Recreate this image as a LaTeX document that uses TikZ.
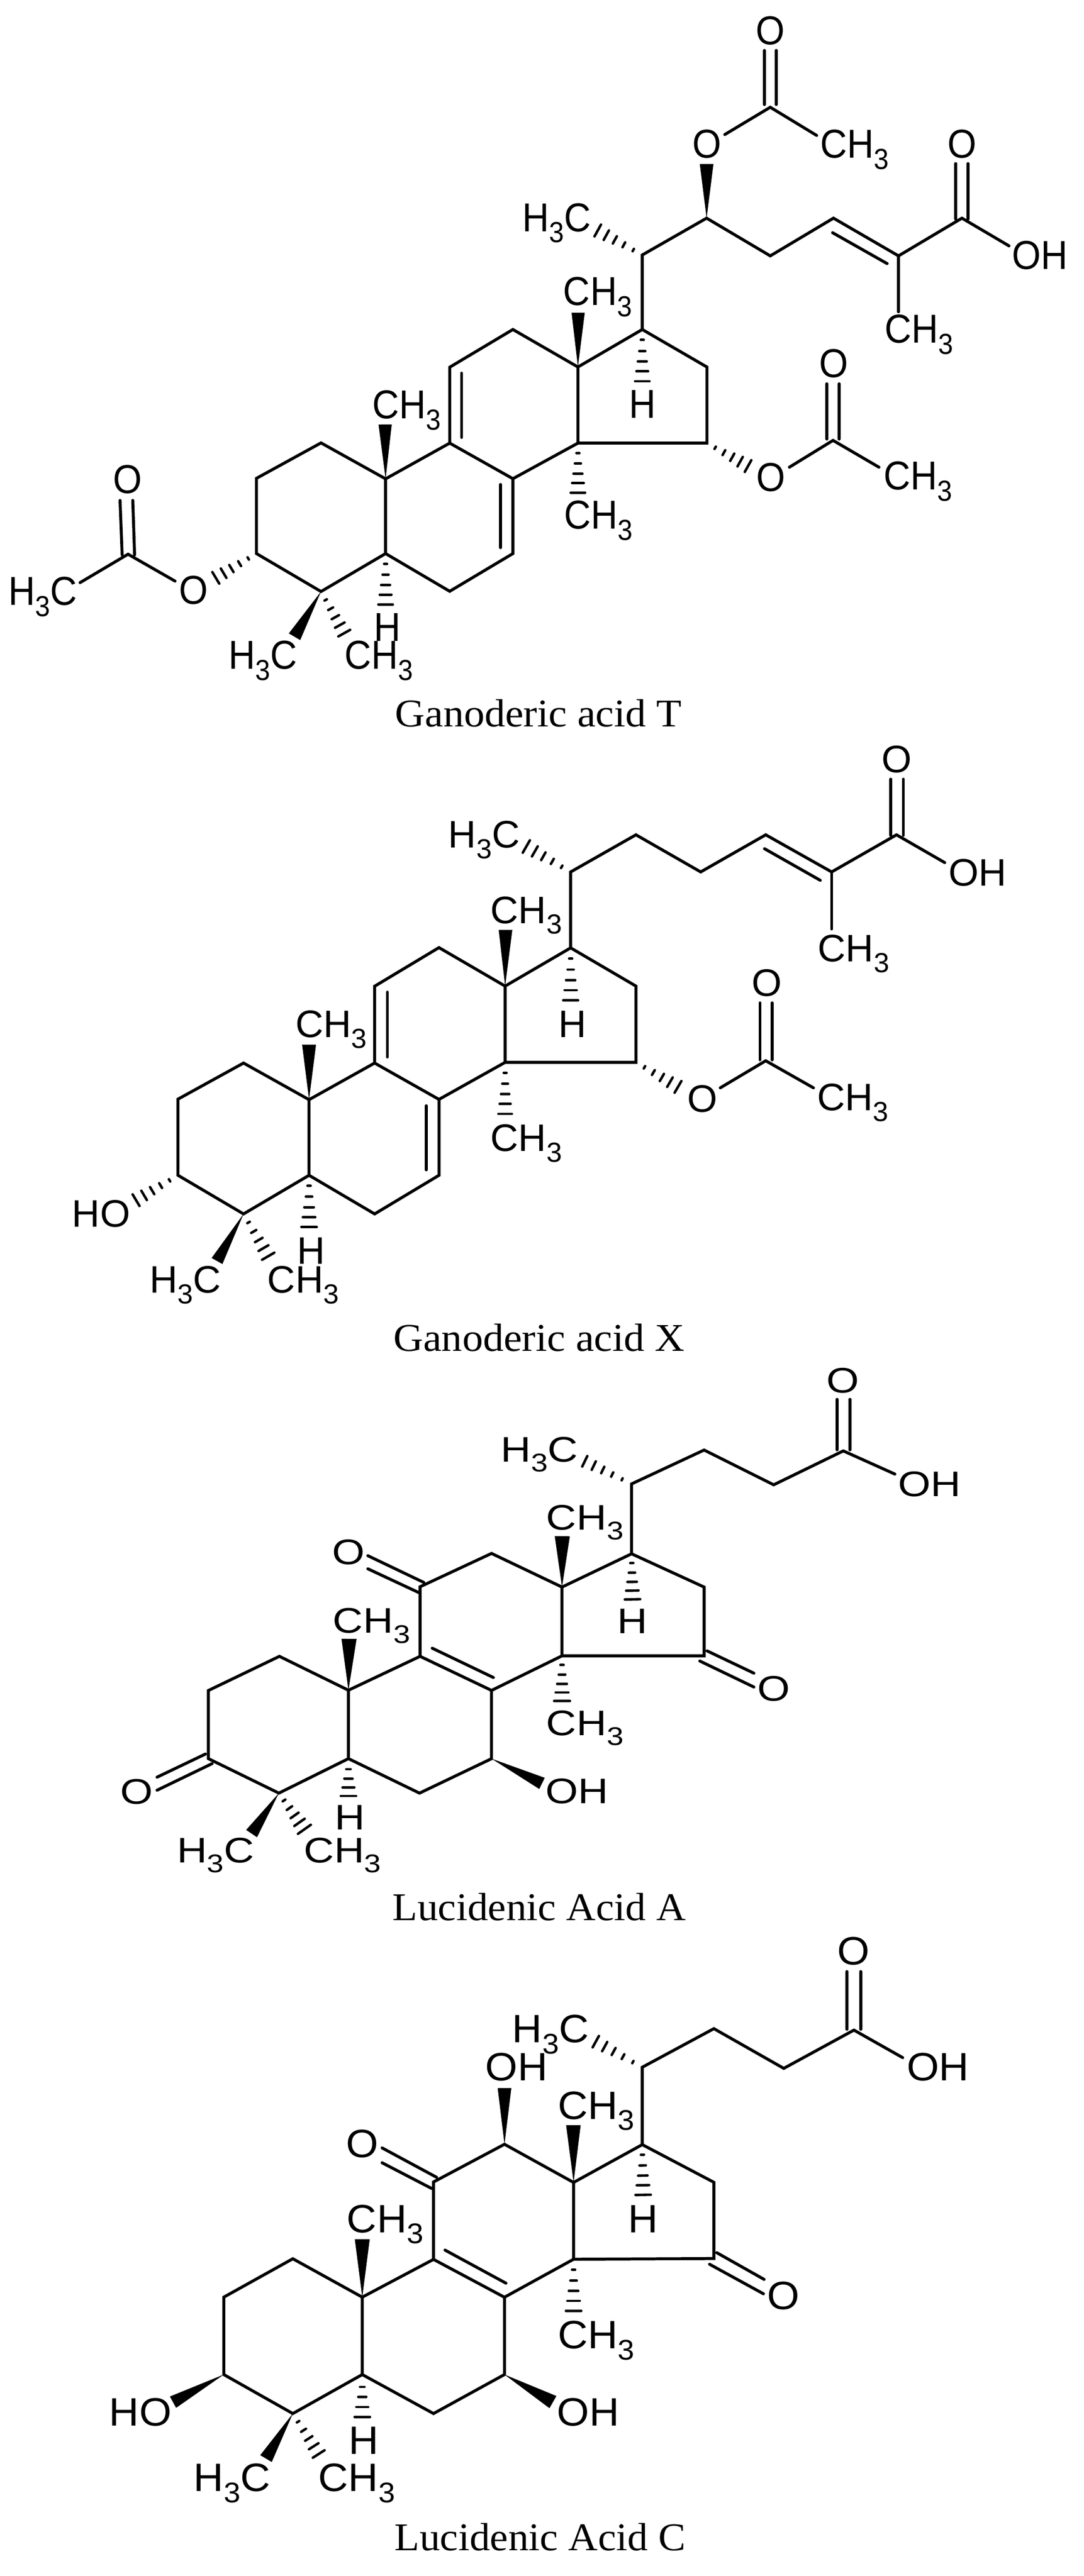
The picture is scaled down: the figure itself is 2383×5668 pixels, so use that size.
\documentclass[tikz,border=0pt]{standalone}
\usepackage{fontspec}
\usepackage{graphicx}
\setmainfont{Liberation Sans}
\newfontfamily\capfont{Liberation Serif}
\usetikzlibrary{calc}
\tikzset{
  bondline/.style={line width=0.065cm,line cap=round,line join=miter,black},
  hashline/.style={line width=0.055cm,line cap=round,black},
  atomlabel/.style={anchor=base west,inner sep=0pt,outer sep=0pt,font=\fontsize{25}{29}\selectfont},
  captionlabel/.style={anchor=base west,inner sep=0pt,outer sep=0pt,font=\capfont\fontsize{24.6}{28}\selectfont}
}
\newcommand{\pnt}[3]{\coordinate (#1) at (#2,#3);}
\newcommand{\atm}[4]{\node[atomlabel] (#1) at ({#2-4},#3) {\scalebox{\xs}[\ys]{#4}};}
\newcommand{\thr}{\raisebox{-.28em}{\scalebox{.72}{3}}}
\newcommand{\chm}{CH\thr}
\newcommand{\hc}{H\thr C}
\newcommand{\seg}[5]{\coordinate (#1a) at (#2,#3);\coordinate (#1b) at (#4,#5);\draw[bondline] (#1a) -- (#1b);}
\newcommand{\capt}[5]{\node[captionlabel] (#1) at ({#2-3},#3) {\scalebox{#5}[1]{#4}};}
\newcommand{\wedgebond}[3]{\pgfmathsetlengthmacro\hw{#3*0.2845}\fill[black] (#1) -- ($(#2)!\hw!90:(#1)$) -- ($(#2)!\hw!-90:(#1)$) -- cycle;}
\newcommand{\hashbond}[4]{\foreach \tv in {#4} {\pgfmathsetlengthmacro\hw{\tv*#3*0.2845}\draw[hashline] ($(#1)!\tv!(#2)!\hw!90:(#1)$) -- ($(#1)!\tv!(#2)!\hw!-90:(#1)$);}}
\newcommand{\hashb}[3]{\hashbond{#1}{#2}{#3}{.2,.41,.61,.8,.99}}
\newcommand{\skeleton}{%
  \draw[bondline] (C2) -- (C1) -- (C10) -- (C5) -- (C4) -- (C3) -- cycle;
  \draw[bondline] (C10) -- (C9) -- (C8) -- (C7) -- (C6) -- (C5);
  \draw[bondline] (C9) -- (C11) -- (C12) -- (C13) -- (C14) -- (C8);
  \draw[bondline] (C13) -- (C17) -- (C16) -- (C15) -- (C14);
}
\begin{document}
\begin{tikzpicture}[x=0.01cm,y=-0.01cm]
\useasboundingbox (0,0) rectangle (2383,5668);
\fill[white] (0,0) rectangle (2383,5668);

% ---------- Ganoderic acid T ----------
\begin{scope}[name prefix=t-]
\def\xs{.93}\def\ys{1.01}
\pnt{C1}{706}{974.5}\pnt{C2}{564}{1052.5}\pnt{C3}{564}{1218}\pnt{C4}{706}{1301.5}\pnt{C5}{848}{1218}
\pnt{C6}{989}{1301}\pnt{C7}{1128}{1218}\pnt{C8}{1128}{1053.3}\pnt{C9}{989}{975}\pnt{C10}{848}{1053.6}
\pnt{C11}{989}{808}\pnt{C12}{1128}{725}\pnt{C13}{1271}{807.5}\pnt{C14}{1271}{975}\pnt{C15}{1554.6}{975}
\pnt{C16}{1554.6}{807.5}\pnt{C17}{1412.5}{725}\pnt{C20}{1412.5}{561}
\pnt{S1}{1554}{480}\pnt{S2}{1694}{563}\pnt{S3}{1833}{480}\pnt{S4}{1976}{563}\pnt{S5}{2115.5}{480}
\skeleton
\draw[bondline] (C17) -- (C20) -- (S1) -- (S2) -- (S3) -- (S4) -- (S5);
\seg{d1}{1015}{821}{1015}{962.5}
\seg{d2}{1100.8}{1066}{1100.8}{1205}
\seg{d3}{1831}{512}{1951}{580}
\seg{d4}{2102}{360}{2102}{482}
\seg{d5}{2129}{360}{2129}{482}
\pnt{e1}{1976}{686}\draw[bondline] (S4) -- (e1);
\pnt{e2}{2219}{541}\draw[bondline] (S5) -- (e2);
% acetate on side chain
\pnt{w1}{1554}{361}\wedgebond{S1}{w1}{15}
\pnt{A1}{1694}{236}\pnt{e3}{1594}{296}\pnt{e4}{1796}{298}
\draw[bondline] (e3) -- (A1) -- (e4);
\seg{d6}{1681}{111}{1681}{230}
\seg{d7}{1707}{111}{1707}{230}
\pnt{h1}{1313.6}{506.6}\hashb{C20}{h1}{15}
% C13, C17, C14 substituents
\pnt{w2}{1271.5}{688}\wedgebond{C13}{w2}{14.5}
\pnt{h2}{1412.5}{840}\hashb{C17}{h2}{16}
\pnt{h3}{1271}{1085}\hashb{C14}{h3}{16}
% acetate on C15
\pnt{h4}{1646}{1026}\hashb{C15}{h4}{15}
\pnt{A2}{1832}{969}\pnt{e5}{1736}{1028}\pnt{e6}{1933}{1028}
\draw[bondline] (e5) -- (A2) -- (e6);
\seg{d8}{1818.6}{844.5}{1818.6}{966}
\seg{d9}{1845.4}{844.5}{1845.4}{966}
% C3 acetate
\pnt{h5}{473.7}{1272}\hashb{C3}{h5}{15}
\pnt{A3}{281.6}{1219.4}\pnt{e7}{385}{1278.6}\pnt{e8}{176}{1282}
\draw[bondline] (e7) -- (A3) -- (e8);
\seg{d10}{264}{1101}{268.6}{1221}
\seg{d11}{292}{1101}{296}{1221}
% ring substituents
\pnt{w3}{847}{934}\wedgebond{C10}{w3}{14.5}
\pnt{h6}{848}{1331}\hashb{C5}{h6}{16}
\pnt{w4}{647.7}{1401}\wedgebond{C4}{w4}{14.5}
\pnt{h7}{757.6}{1394}\hashb{C4}{h7}{15}
% labels
\atm{O1}{1666}{98}{O}
\atm{O2}{1527}{348}{O}
\atm{Me1}{1808}{348}{\chm}
\atm{O3}{2088}{348}{O}
\atm{OH1}{2230}{592}{OH}
\atm{Me2}{1153}{509}{\hc}
\atm{Me3}{1949.4}{754}{\chm}
\atm{Me4}{1243}{672}{\chm}
\atm{H1}{1388}{920}{H}
\atm{Me5}{1244.6}{1163.4}{\chm}
\atm{O4}{1667}{1080.5}{O}
\atm{O5}{1805.6}{830.5}{O}
\atm{Me6}{1947}{1077}{\chm}
\atm{Me7}{822.7}{921}{\chm}
\atm{O6}{398}{1329}{O}
\atm{O7}{252.5}{1085.7}{O}
\atm{Me8}{23}{1331.6}{\hc}
\atm{H2}{826.5}{1410.7}{H}
\atm{Me9}{506.6}{1472.4}{\hc}
\atm{Me10}{761.5}{1472.4}{\chm}
\capt{title}{872}{1599}{Ganoderic acid T}{1.05}
\end{scope}

% ---------- Ganoderic acid X ----------
\begin{scope}[name prefix=x-]
\def\xs{.97}\def\ys{.96}
\pnt{C1}{535.6}{2339}\pnt{C2}{391.5}{2418.4}\pnt{C3}{391.5}{2586}\pnt{C4}{535.6}{2671}\pnt{C5}{679.7}{2586}
\pnt{C6}{823.9}{2671}\pnt{C7}{965.4}{2586}\pnt{C8}{965.4}{2419}\pnt{C9}{823.9}{2339}\pnt{C10}{679.7}{2419.6}
\pnt{C11}{823.9}{2170}\pnt{C12}{965.4}{2085}\pnt{C13}{1110.9}{2169.7}\pnt{C14}{1110.9}{2337.5}\pnt{C15}{1398.6}{2337.5}
\pnt{C16}{1398.6}{2169.7}\pnt{C17}{1255}{2085.6}\pnt{C20}{1255}{1918.5}
\pnt{S1}{1398.6}{1836.8}\pnt{S2}{1541}{1918.5}\pnt{S3}{1684}{1836.8}\pnt{S4}{1829}{1918.5}\pnt{S5}{1971.6}{1836.8}
\skeleton
\draw[bondline] (C17) -- (C20) -- (S1) -- (S2) -- (S3) -- (S4) -- (S5);
\seg{d1}{852}{2183}{852}{2325.7}
\seg{d2}{937.4}{2433}{937.4}{2574}
\seg{d3}{1681.3}{1867.4}{1804}{1937}
\seg{d4}{1959}{1714.4}{1959}{1838}
\seg{d5}{1986.5}{1714.4}{1986.5}{1838}
\pnt{e1}{1829}{2044}\draw[bondline] (S4) -- (e1);
\pnt{e2}{2077.7}{1898}\draw[bondline] (S5) -- (e2);
\pnt{h1}{1156.5}{1862}\hashb{C20}{h1}{16}
\pnt{w2}{1111.7}{2046}\wedgebond{C13}{w2}{15}
\pnt{h2}{1255}{2202}\hashb{C17}{h2}{16.5}
\pnt{h3}{1110.9}{2452}\hashb{C14}{h3}{15}
\pnt{h4}{1492}{2392}\hashb{C15}{h4}{15}
\pnt{A2}{1684}{2334}\pnt{e5}{1584}{2393.6}\pnt{e6}{1789}{2393.6}
\draw[bondline] (e5) -- (A2) -- (e6);
\seg{d8}{1671.4}{2206.7}{1671.4}{2332}
\seg{d9}{1698}{2206.7}{1698}{2332}
\pnt{w3}{679.7}{2298.4}\wedgebond{C10}{w3}{15.3}
\pnt{h5}{298.3}{2641.3}\hashb{C3}{h5}{15}
\pnt{h6}{679.7}{2701}\hashb{C5}{h6}{17}
\pnt{w4}{477.3}{2774.6}\wedgebond{C4}{w4}{13.6}
\pnt{h7}{590.4}{2765}\hashb{C4}{h7}{15.7}
\atm{O1}{1942.6}{1699.7}{O}
\atm{OH1}{2090}{1949.7}{OH}
\atm{Me1}{1802.4}{2115.5}{\chm}
\atm{Me2}{990}{1865.5}{\hc}
\atm{Me3}{1082.7}{2031.4}{\chm}
\atm{H1}{1232}{2282}{H}
\atm{Me4}{1082.7}{2533}{\chm}
\atm{O2}{1515.5}{2447}{O}
\atm{O3}{1657}{2192}{O}
\atm{Me5}{1800.8}{2444}{\chm}
\atm{Me6}{653.6}{2283}{\chm}
\atm{HO1}{162.5}{2699.5}{HO}
\atm{H2}{658}{2781}{H}
\atm{Me7}{332.8}{2845}{\hc}
\atm{Me8}{592.3}{2845}{\chm}
\capt{title}{868.5}{2973}{Ganoderic acid X}{1.05}
\end{scope}

% ---------- Lucidenic Acid A ----------
\begin{scope}[name prefix=a-]
\def\xs{1.05}\def\ys{.89}
\pnt{C1}{614.5}{3644.4}\pnt{C2}{458.3}{3719.6}\pnt{C3}{458.3}{3869.5}\pnt{C4}{613.3}{3945.4}\pnt{C5}{766.3}{3869.5}
\pnt{C6}{922.6}{3945.4}\pnt{C7}{1081}{3869.6}\pnt{C8}{1081}{3719.4}\pnt{C9}{923.9}{3644.4}\pnt{C10}{766.3}{3719}
\pnt{C11}{923.9}{3491.3}\pnt{C12}{1081}{3418}\pnt{C13}{1236}{3492}\pnt{C14}{1236}{3643.3}\pnt{C15}{1548.5}{3643.3}
\pnt{C16}{1548.5}{3492}\pnt{C17}{1389}{3418.8}\pnt{C20}{1389}{3265}
\pnt{S1}{1548.5}{3190.5}\pnt{S2}{1701.5}{3267}\pnt{S3}{1854.6}{3192.4}
\skeleton
\draw[bondline] (C17) -- (C20) -- (S1) -- (S2) -- (S3);
\seg{d1}{950.6}{3626.5}{1085}{3691}
\seg{d2}{1840.6}{3079}{1840.6}{3190}
\seg{d3}{1869}{3079}{1869}{3190}
\pnt{e2}{1968}{3243.4}\draw[bondline] (S3) -- (e2);
\pnt{h1}{1285}{3214.7}\hashb{C20}{h1}{13}
\seg{d4}{1555}{3632.4}{1658}{3681.5}
\seg{d5}{1539}{3654.7}{1658}{3712}
\pnt{w2}{1236.6}{3380}\wedgebond{C13}{w2}{16.6}
\pnt{h2}{1391}{3520}\hashb{C17}{h2}{17}
\pnt{h3}{1236}{3744}\hashb{C14}{h3}{17.5}
\pnt{w5}{1192}{3924}\wedgebond{C7}{w5}{13.7}
\seg{d6}{932}{3481.8}{809}{3423}
\seg{d7}{920.7}{3504}{809}{3451.8}
\pnt{w3}{767.6}{3606}\wedgebond{C10}{w3}{16.6}
\seg{d8}{452}{3859.3}{345.4}{3910.3}
\seg{d9}{466.6}{3880.4}{345.4}{3939}
\pnt{h6}{766.3}{3952.5}\hashbond{C5}{h6}{17}{.28,.53,.76,.99}
\pnt{w4}{553.3}{4034.4}\wedgebond{C4}{w4}{14.4}
\pnt{h7}{670}{4025.8}\hashb{C4}{h7}{17.5}
\atm{O1}{1821.4}{3064.8}{O}
\atm{OH1}{1979}{3292.5}{OH}
\atm{Me1}{1105}{3216}{\hc}
\atm{O2}{1669.6}{3742}{O}
\atm{Me2}{1205}{3365.8}{\chm}
\atm{H1}{1362}{3593.5}{H}
\atm{Me3}{1205}{3818.6}{\chm}
\atm{OH2}{1204}{3968.5}{OH}
\atm{O3}{734.4}{3441.6}{O}
\atm{Me4}{735.7}{3593.4}{\chm}
\atm{O4}{268.9}{3969.6}{O}
\atm{H2}{740.8}{4025.8}{H}
\atm{Me5}{393}{4098.5}{\hc}
\atm{Me6}{672}{4098.5}{\chm}
\capt{title}{866.5}{4225}{Lucidenic Acid A}{1.04}
\end{scope}

% ---------- Lucidenic Acid C ----------
\begin{scope}[name prefix=c-]
\def\xs{1.04}\def\ys{.99}
\pnt{C1}{644}{4969.9}\pnt{C2}{492.2}{5054.4}\pnt{C3}{492.2}{5224.7}\pnt{C4}{644}{5310.5}\pnt{C5}{796.7}{5224.7}
\pnt{C6}{953.4}{5310.5}\pnt{C7}{1109.4}{5224.7}\pnt{C8}{1109.4}{5054.6}\pnt{C9}{953.4}{4971.3}\pnt{C10}{796.7}{5054.4}
\pnt{C11}{953.4}{4801}\pnt{C12}{1109.5}{4718}\pnt{C13}{1261.4}{4802}\pnt{C14}{1261.4}{4971}\pnt{C15}{1570}{4969.4}
\pnt{C16}{1570}{4801.7}\pnt{C17}{1412.5}{4718.8}\pnt{C20}{1412.5}{4548.5}
\pnt{S1}{1570}{4463.6}\pnt{S2}{1723.7}{4551}\pnt{S3}{1878}{4466.8}
\skeleton
\draw[bondline] (C17) -- (C20) -- (S1) -- (S2) -- (S3);
\seg{d1}{978.6}{4950.8}{1112.8}{5023.7}
\seg{d2}{1862.8}{4338}{1862.8}{4465}
\seg{d3}{1892.7}{4338}{1892.7}{4465}
\pnt{e2}{1985.2}{4527.4}\draw[bondline] (S3) -- (e2);
\pnt{h1}{1309.2}{4491.7}\hashb{C20}{h1}{14.5}
\pnt{w6}{1109.5}{4594.4}\wedgebond{C12}{w6}{15}
\pnt{w2}{1261}{4676}\wedgebond{C13}{w2}{16}
\pnt{h2}{1414.4}{4830.4}\hashb{C17}{h2}{17}
\pnt{h3}{1261.4}{5085.5}\hashb{C14}{h3}{17}
\seg{d4}{1576.4}{4956.6}{1680.4}{5015.3}
\seg{d5}{1560.5}{4982}{1679}{5047}
\pnt{w5}{1216}{5285.3}\wedgebond{C7}{w5}{15.4}
\seg{d6}{960.2}{4790.7}{840.3}{4726}
\seg{d7}{949.3}{4815.3}{840.3}{4758.7}
\pnt{w3}{796.7}{4927}\wedgebond{C10}{w3}{16.4}
\pnt{w7}{380.5}{5285.5}\wedgebond{C3}{w7}{14.2}
\pnt{h6}{796.7}{5318.7}\hashbond{C5}{h6}{17}{.29,.52,.76,.99}
\pnt{w4}{585}{5409.6}\wedgebond{C4}{w4}{14.7}
\pnt{h7}{701.4}{5400.4}\hashb{C4}{h7}{15.5}
\atm{O1}{1845}{4323.3}{O}
\atm{OH1}{1998}{4578.4}{OH}
\atm{Me1}{1130.6}{4494.3}{\hc}
\atm{OH2}{1071}{4578.4}{OH}
\atm{Me2}{1230.7}{4662.6}{\chm}
\atm{H1}{1385.7}{4912}{H}
\atm{Me3}{1230.7}{5168}{\chm}
\atm{O2}{1691.8}{5081}{O}
\atm{OH3}{1228.6}{5337}{OH}
\atm{O3}{765.4}{4746.5}{O}
\atm{Me4}{766.8}{4912}{\chm}
\atm{HO1}{244.3}{5337}{HO}
\atm{H2}{770.8}{5400.4}{H}
\atm{Me5}{430.2}{5482}{\hc}
\atm{Me6}{704}{5482}{\chm}
\capt{title}{871}{5612}{Lucidenic Acid C}{1.04}
\end{scope}
\end{tikzpicture}
\end{document}
